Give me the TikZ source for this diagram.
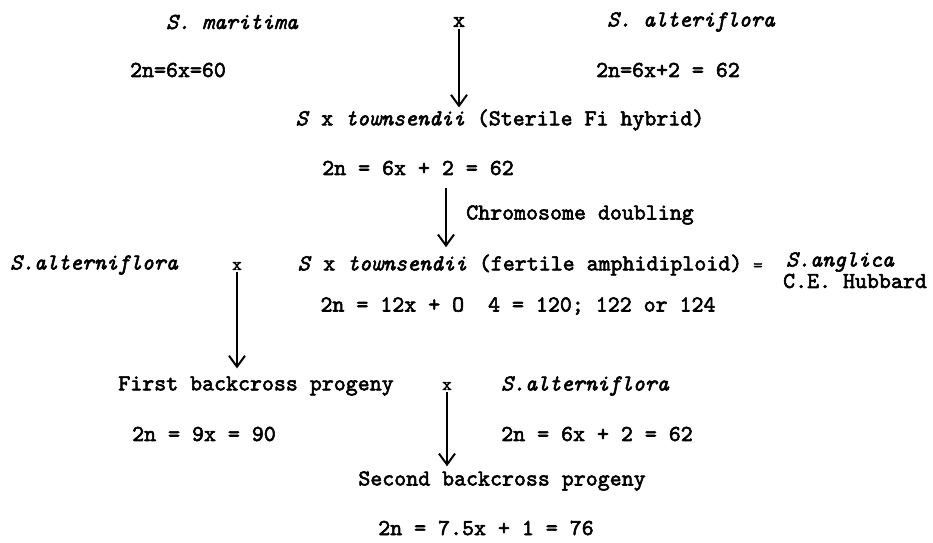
\documentclass[tikz,border=0pt]{standalone}
\usepackage{fontspec}
\setmainfont{lmmono10-regular.otf}[ItalicFont=lmmono10-italic.otf, FakeBold=2.5]
\usepackage{tikz}
\usetikzlibrary{arrows.meta}
\tikzset{typenode/.style={inner sep = 0pt, outer sep = 0pt, font=\fontsize{11.4}{13}\selectfont},
speciesnode/.style={typenode, font=\fontsize{11.4}{13}\selectfont\itshape},
crossnode/.style={typenode, font=\fontsize{9}{11}\selectfont},
arrowline/.style={line width = 1pt, -{Straight Barb[length=5.5pt,width=8pt]}}}

\begin{document}
\begin{tikzpicture}[x=0.5pt,y=0.5pt]
\useasboundingbox (0,0) rectangle (933,-542);
\node[speciesnode] (maritima) at (232,-22) {S. maritima};
\node[typenode] (crossA) at (459,-22) {x};
\node[speciesnode] (alteriflora) at (691,-22) {S. alteriflora};
\node[typenode] (maritiman) at (178,-70) {2n=6x=60};
\node[typenode] (alteriforan) at (668,-70) {2n=6x+2 = 62};
\node[typenode] (hybrid) at (500,-120) {\textit{S} x \textit{townsendii} (Sterile Fi hybrid)};
\node[typenode] (hybridn) at (418,-168) {2n = 6x + 2 = 62};
\node[typenode] (doubling) at (580,-215) {Chromosome doubling};
\node[speciesnode] (alternifloraA) at (94,-265) {S.alterniflora};
\node[crossnode] (crossB) at (237,-266) {x};
\node[typenode] (amphi) at (520,-265) {\textit{S} x \textit{townsendii} (fertile amphidiploid)};
\node[crossnode] (equal) at (758,-267) {=};
\node[speciesnode] (anglica) at (840,-262) {S.anglica};
\node[typenode] (hubbard) at (855,-281) {C.E. Hubbard};
\node[typenode] (amphin) at (518,-306) {2n = 12x + O~~4 = 120; 122 or 124};
\node[typenode] (backA) at (256,-386) {First backcross progeny};
\node[crossnode] (crossC) at (447,-386) {x};
\node[speciesnode] (alternifloraB) at (585,-386) {S.alterniflora};
\node[typenode] (backAn) at (204,-434) {2n = 9x = 90};
\node[typenode] (alternifloraBn) at (597,-434) {2n = 6x + 2 = 62};
\node[typenode] (backB) at (502,-481) {Second backcross progeny};
\node[typenode] (backBn) at (486,-528) {2n = 7.5x + 1 = 76};

\draw[arrowline] ([yshift=-1pt]crossA.south) -- ([yshift=1pt]crossA |- hybrid.north);
\draw[arrowline] ([xshift=14pt,yshift=-6.5pt]hybridn.south) -- ++(0,-59);
\draw[arrowline] ([yshift=-1pt]crossB.south) -- ([yshift=4pt]crossB |- backA.north);
\draw[arrowline] ([yshift=-1pt]crossC.south) -- ([yshift=2.5pt]crossC |- backB.north);
\end{tikzpicture}
\end{document}
